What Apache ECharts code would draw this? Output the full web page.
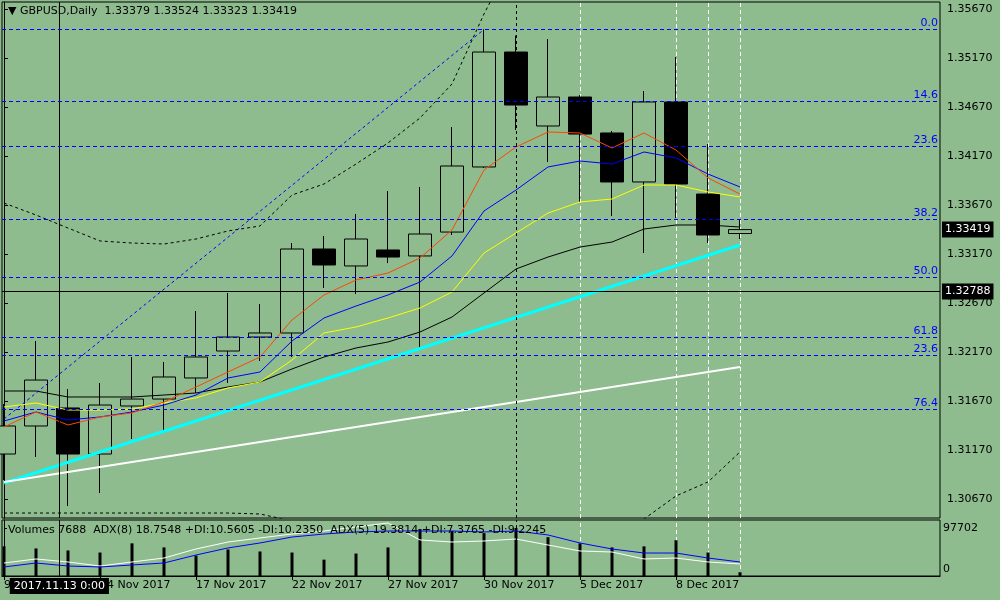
<!DOCTYPE html>
<html>
<head>
<meta charset="utf-8">
<script src="https://cdn.jsdelivr.net/npm/echarts@6/dist/echarts.min.js"></script>
</head>
<body style="margin:0; background:#8fbc8f">
<div id="container" style="width:1000px; height:600px"></div>
<script>
// GBPUSD daily bars, 9 Nov - 12 Dec 2017
var dates = ['9 Nov 2017', '10 Nov 2017', '13 Nov 2017', '14 Nov 2017', '15 Nov 2017', '16 Nov 2017',
    '17 Nov 2017', '20 Nov 2017', '21 Nov 2017', '22 Nov 2017', '23 Nov 2017', '24 Nov 2017',
    '27 Nov 2017', '28 Nov 2017', '29 Nov 2017', '30 Nov 2017', '1 Dec 2017', '4 Dec 2017',
    '5 Dec 2017', '6 Dec 2017', '7 Dec 2017', '8 Dec 2017', '11 Dec 2017', '12 Dec 2017'];
var labelBars = [0, 3, 6, 9, 12, 15, 18, 21];

var opens  = [1.31129, 1.31415, 1.31599, 1.31129, 1.31619, 1.31690, 1.31905, 1.32180, 1.32323, 1.32364, 1.33221, 1.33048,
              1.33211, 1.33150, 1.33394, 1.34058, 1.35231, 1.34476, 1.34772, 1.34405, 1.33905, 1.34721, 1.33782, 1.33379];
var highs  = [1.31639, 1.32282, 1.31792, 1.31854, 1.32119, 1.32068, 1.32588, 1.32772, 1.32660, 1.33282, 1.33354, 1.33578,
              1.33813, 1.33854, 1.34466, 1.35463, 1.35400, 1.35364, 1.34792, 1.34425, 1.34833, 1.35180, 1.34292, 1.33524];
var lows   = [1.30864, 1.31099, 1.30599, 1.30731, 1.31282, 1.31354, 1.31752, 1.31854, 1.32078, 1.32119, 1.32823, 1.32762,
              1.33078, 1.32201, 1.33364, 1.34048, 1.34435, 1.34109, 1.33701, 1.33558, 1.33180, 1.33537, 1.33282, 1.33323];
var closes = [1.31415, 1.31884, 1.31129, 1.31629, 1.31690, 1.31915, 1.32119, 1.32323, 1.32364, 1.33221, 1.33058, 1.33323,
              1.33139, 1.33374, 1.34068, 1.35231, 1.34690, 1.34772, 1.34394, 1.33905, 1.34721, 1.33884, 1.33364, 1.33419];

// moving averages
var maRed    = [1.31405, 1.31558, 1.31425, 1.31507, 1.31548, 1.31660, 1.31813, 1.31966, 1.32119, 1.32497, 1.32752, 1.32905,
                1.32976, 1.33129, 1.33415, 1.34027, 1.34262, 1.34415, 1.34405, 1.34252, 1.34405, 1.34231, 1.33946, 1.33782];
var maBlue   = [1.31466, 1.31558, 1.31476, 1.31507, 1.31558, 1.31629, 1.31731, 1.31905, 1.31966, 1.32282, 1.32517, 1.32639,
                1.32752, 1.32884, 1.33150, 1.33609, 1.33823, 1.34058, 1.34119, 1.34088, 1.34211, 1.34150, 1.33986, 1.33854];
var maYellow = [1.31609, 1.31650, 1.31578, 1.31578, 1.31588, 1.31650, 1.31701, 1.31803, 1.31864, 1.32088, 1.32364, 1.32425,
                1.32517, 1.32619, 1.32782, 1.33180, 1.33384, 1.33588, 1.33701, 1.33731, 1.33874, 1.33874, 1.33803, 1.33752];
var maBlack  = [1.31772, 1.31772, 1.31711, 1.31711, 1.31711, 1.31731, 1.31752, 1.31813, 1.31864, 1.31997, 1.32119, 1.32211,
                1.32272, 1.32374, 1.32527, 1.32772, 1.33017, 1.33139, 1.33241, 1.33292, 1.33425, 1.33466, 1.33466, 1.33445];
// envelope bands (dashed black)
var bandUpper = [1.33690, 1.33568, 1.33435, 1.33303, 1.33282, 1.33272, 1.33323, 1.33405, 1.33456, 1.33772, 1.33884, 1.34088,
                 1.34303, 1.34558, 1.34905, 1.35619, 1.36250, 1.36480, 1.36600, 1.36680, 1.36720, 1.36750, 1.36720, 1.36650];
var bandLower = [1.30527, 1.30527, 1.30527, 1.30527, 1.30527, 1.30527, 1.30527, 1.30527, 1.30517, 1.30446, 1.30300, 1.30250,
                 1.30220, 1.30200, 1.30180, 1.30150, 1.30150, 1.30200, 1.30280, 1.30358, 1.30466, 1.30701, 1.30844, 1.31150];

// trend lines: [bar, price]
var cyanTrend = [[0, 1.30833], [23, 1.33262]];
var whiteTrend = [[0, 1.30843], [23, 1.32017]];
var blueTrend = [[0, 1.31486], [15, 1.35461]];

// fibonacci levels
var fibLabels = ['0.0', '14.6', '23.6', '38.2', '50.0', '61.8', '23.6', '76.4'];
var fibPrices = [1.354608, 1.347261, 1.342669, 1.335220, 1.329302, 1.323179, 1.321343, 1.315832];

var priceTicks = [1.30670, 1.31170, 1.31670, 1.32170, 1.32670, 1.33170, 1.33670, 1.34170, 1.34670, 1.35170, 1.35670];
var lastPrice = 1.33419;
var crossPrice = 1.32788;
var crossBar = 1.73;
var dashedBar = 16;
var sepBars = [18, 21, 22, 23];

// volume + ADX sub window
var volumes = [60300, 56100, 52000, 47800, 66500, 58200, 41600, 54100, 49900, 47800, 33300, 45700,
               58200, 95600, 91500, 87300, 97702, 79000, 66500, 58200, 60300, 72800, 47800, 7688];
var volTicks = [0, 97702];
var adxWhite = [20.3, 26.6, 21.9, 15.6, 21.9, 28.1, 42.2, 53.1, 59.4, 65.6, 70.3, 76.6,
                82.8, 56.3, 53.1, 54.7, 57.8, 48.4, 39.1, 37.5, 26.6, 28.1, 21.9, 18.8];
var adxBlue  = [14.1, 20.3, 15.6, 14.1, 17.2, 20.3, 32.8, 43.8, 51.6, 60.9, 65.6, 68.8,
                70.3, 70.3, 70.3, 68.8, 70.3, 64.1, 51.6, 42.2, 35.9, 35.9, 28.1, 21.9];

var headerText = '\u25BC GBPUSD,Daily  1.33379 1.33524 1.33323 1.33419';
var volumeText = 'Volumes 7688  ADX(8) 18.7548 +DI:10.5605 -DI:10.2350  ADX(5) 19.3814 +DI:7.3765 -DI:9.2245';

var FONT = 'DejaVu Sans';
var BG = '#8fbc8f';
var FIB_BLUE = '#0000ff';

function pairs(arr) {
    return arr.map(function (v, i) { return [i, v]; });
}

var candles = opens.map(function (o, i) {
    return [i, o, closes[i], lows[i], highs[i]];
});

function lineSeries(data, color, width, dashed, yIdx, xIdx) {
    return {
        type: 'line',
        xAxisIndex: xIdx || 0,
        yAxisIndex: yIdx || 0,
        data: data,
        symbol: 'none',
        silent: true,
        z: 3,
        lineStyle: { color: color, width: width, type: dashed ? [3, 3] : 'solid' }
    };
}

function marks(data, z, lineStyle) {
    return { silent: true, symbol: ['none', 'none'], precision: 6, z: z, animation: false,
             lineStyle: lineStyle, label: { show: false }, data: data };
}

var priceBox = {
    show: true, position: 'end', distance: 2, color: '#fff', backgroundColor: '#000',
    padding: [3, 3, 2, 3], fontFamily: FONT, fontSize: 11
};

// fibonacci lines, all in one marker group
var fibMarks = fibPrices.map(function (p, i) {
    return {
        yAxis: p,
        label: { show: true, formatter: fibLabels[i], position: 'insideEndTop', distance: [2, 1],
                 color: FIB_BLUE, fontFamily: FONT, fontSize: 11 }
    };
});

// crosshair, price label and the dashed black vertical
var crossMarks = [
    { yAxis: crossPrice, lineStyle: { color: '#000', type: 'solid', width: 1 },
      label: Object.assign({}, priceBox, { formatter: crossPrice.toFixed(5) }) },
    { yAxis: lastPrice, lineStyle: { color: 'rgba(0,0,0,0)', width: 1 },
      label: Object.assign({}, priceBox, { formatter: lastPrice.toFixed(5) }) },
    { xAxis: crossBar, lineStyle: { color: '#000', type: 'solid', width: 1 } },
    { xAxis: dashedBar, lineStyle: { color: '#000', type: [3, 3], width: 1 } }
];

var sepMarks = sepBars.map(function (b) { return { xAxis: b }; });
var sepStyle = { color: '#fff', type: [4, 3], width: 1 };

var volMarks = [
    { xAxis: crossBar, lineStyle: { color: '#000', type: 'solid', width: 1 },
      label: { show: true, position: 'start', distance: 2, formatter: '2017.11.13 0:00', color: '#fff',
               backgroundColor: '#000', padding: [3, 4, 2, 4], fontFamily: FONT, fontSize: 11 } },
    { xAxis: dashedBar, lineStyle: { color: '#000', type: [3, 3], width: 1 } }
];

var option = {
    animation: false,
    backgroundColor: BG,
    textStyle: { fontFamily: FONT, fontSize: 11, color: '#000' },
    title: [
        { text: headerText, left: 8, top: 6, padding: 0,
          textStyle: { fontFamily: FONT, fontSize: 11, fontWeight: 'normal', color: '#000' } },
        { text: volumeText, left: 8, top: 525, padding: 0,
          textStyle: { fontFamily: FONT, fontSize: 11, fontWeight: 'normal', color: '#000' } }
    ],
    grid: [
        { left: 2, top: 2, width: 938, height: 516, show: true, borderColor: '#000', borderWidth: 1,
          backgroundColor: 'transparent', outerBoundsMode: 'none' },
        { left: 2, top: 520, width: 938, height: 56, show: true, borderColor: '#000', borderWidth: 1,
          backgroundColor: 'transparent', outerBoundsMode: 'none' }
    ],
    xAxis: [
        { type: 'value', gridIndex: 0, min: -0.0625, max: 29.25, show: false },
        { type: 'value', gridIndex: 1, min: -0.0625, max: 29.25,
          axisLine: { show: true, lineStyle: { color: '#000' } },
          axisTick: { show: true, customValues: labelBars, length: 4, lineStyle: { color: '#000' } },
          axisLabel: { customValues: labelBars, align: 'left', margin: 4, color: '#000',
                       fontFamily: FONT, fontSize: 11,
                       formatter: function (v) { return dates[Math.round(v)]; } },
          splitLine: { show: false } }
    ],
    yAxis: [
        { type: 'value', gridIndex: 0, position: 'right', min: 1.304762, max: 1.357414,
          axisLine: { show: true, lineStyle: { color: '#000' } },
          axisTick: { show: true, customValues: priceTicks, length: 4, lineStyle: { color: '#000' } },
          axisLabel: { customValues: priceTicks, margin: 7, color: '#000', fontFamily: FONT, fontSize: 11,
                       formatter: function (v) { return v.toFixed(5); } },
          splitLine: { show: false } },
        { type: 'value', gridIndex: 1, position: 'right', min: 0, max: 114000,
          axisLine: { show: true, lineStyle: { color: '#000' } },
          axisTick: { show: true, customValues: volTicks, length: 3, lineStyle: { color: '#000' } },
          axisLabel: { customValues: volTicks, margin: 3, color: '#000', fontFamily: FONT, fontSize: 11,
                       formatter: function (v) { return v === 0 ? '{z|0}' : String(v); },
                       rich: { z: { padding: [0, 0, 14, 0], fontFamily: FONT, fontSize: 11 } } },
          splitLine: { show: false } },
        { type: 'value', gridIndex: 1, min: 0, max: 87.5, show: false }
    ],
    series: [
        {
            type: 'candlestick',
            xAxisIndex: 0, yAxisIndex: 0,
            data: candles,
            barWidth: 24,
            clip: true,
            silent: true,
            z: 2,
            itemStyle: { color: BG, color0: '#000', borderColor: '#000', borderColor0: '#000', borderWidth: 1 },
            markLine: marks(crossMarks, 6, { color: '#000', width: 1 })
        },
        Object.assign(lineSeries(pairs(maBlack), '#000000', 1), {
            markLine: marks(fibMarks, 6, { color: FIB_BLUE, type: [4, 3], width: 1 })
        }),
        lineSeries(pairs(maYellow), '#ffff00', 1),
        lineSeries(pairs(maBlue), '#0000ff', 1),
        lineSeries(pairs(maRed), '#ff4500', 1),
        lineSeries(cyanTrend, '#00ffff', 3),
        lineSeries(whiteTrend, '#ffffff', 2),
        lineSeries(blueTrend, '#0000ff', 1, true),
        Object.assign(lineSeries(pairs(bandUpper), '#000000', 1, true), { markLine: marks(sepMarks, 1, sepStyle) }),
        lineSeries(pairs(bandLower), '#000000', 1, true),
        {
            type: 'bar',
            xAxisIndex: 1, yAxisIndex: 1,
            data: pairs(volumes),
            barWidth: 3,
            silent: true,
            z: 2,
            itemStyle: { color: '#000' },
            markLine: marks(volMarks, 6, { color: '#000', width: 1 })
        },
        Object.assign(lineSeries(pairs(adxWhite), '#ffffff', 1, false, 2, 1), { markLine: marks(sepMarks, 1, sepStyle) }),
        lineSeries(pairs(adxBlue), '#0000ff', 1, false, 2, 1)
    ]
};

var myChart = echarts.init(document.getElementById('container'));
myChart.setOption(option);
</script>
</body>
</html>
